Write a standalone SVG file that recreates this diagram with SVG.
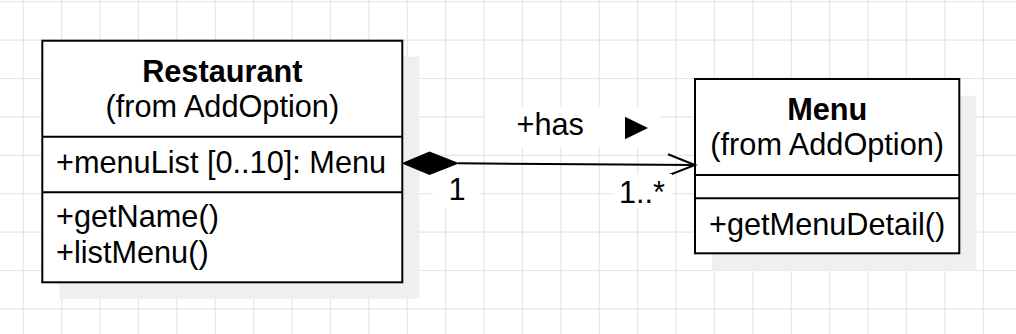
<svg xmlns="http://www.w3.org/2000/svg" width="1016" height="334" viewBox="0 0 1016 334">
<style>
.grid{stroke:#e6e6e6;stroke-width:1.2;fill:none}
.shadow{fill:#efefef;stroke:none}
.box{fill:#ffffff;stroke:#000000;stroke-width:2}
.div{stroke:#000000;stroke-width:2;fill:none}
text{font-family:"Liberation Sans",Arial,sans-serif;font-size:30.7px;fill:#000000}
.b{font-weight:bold}
.c{text-anchor:middle}
.edge{stroke:#000000;stroke-width:2;fill:none}
.lbg{fill:#ffffff;stroke:none}
</style>
<rect x="0" y="0" width="1016" height="334" fill="#ffffff"/>
<path class="grid" d="M23.3 0V334M61.7 0V334M100.1 0V334M138.5 0V334M176.9 0V334M215.3 0V334M253.7 0V334M292.1 0V334M330.5 0V334M368.9 0V334M407.3 0V334M445.7 0V334M484.1 0V334M522.5 0V334M560.9 0V334M599.3 0V334M637.7 0V334M676.1 0V334M714.5 0V334M752.9 0V334M791.3 0V334M829.7 0V334M868.1 0V334M906.5 0V334M944.9 0V334M983.3 0V334M0 1.7H1016M0 40.1H1016M0 78.5H1016M0 116.9H1016M0 155.3H1016M0 193.7H1016M0 232.1H1016M0 270.5H1016M0 308.9H1016"/>
<g id="restaurant">
<rect class="shadow" x="59.3" y="56.7" width="360" height="242"/>
<rect class="box" x="42.3" y="40.7" width="360" height="241.6"/>
<line class="div" x1="42.3" y1="136.7" x2="402.3" y2="136.7"/>
<line class="div" x1="42.3" y1="192.3" x2="402.3" y2="192.3"/>
<text class="b c" x="222.3" y="82">Restaurant</text>
<text class="c" x="222.3" y="117">(from AddOption)</text>
<text x="56" y="173">+menuList [0..10]: Menu</text>
<text x="56" y="227">+getName()</text>
<text x="56" y="263">+listMenu()</text>
</g>
<g id="menu">
<rect class="shadow" x="712" y="95.7" width="264.3" height="175"/>
<rect class="box" x="695" y="79" width="264.3" height="174.3"/>
<line class="div" x1="695" y1="175" x2="959.3" y2="175"/>
<line class="div" x1="695" y1="198.3" x2="959.3" y2="198.3"/>
<text class="b c" x="827.2" y="120">Menu</text>
<text class="c" x="827.2" y="155">(from AddOption)</text>
<text x="709" y="235">+getMenuDetail()</text>
</g>
<g id="connectors">
<line class="edge" x1="458" y1="163.3" x2="694" y2="165"/>
<polygon points="402.7,163.3 429.5,152 458,163.3 429.5,174.5" fill="#000000" stroke="#000000" stroke-width="1"/>
<polyline class="edge" points="668,154.3 695,165 668,175.5"/>
<rect class="lbg" x="485" y="107" width="175" height="40"/>
<text x="516.5" y="135">+has</text>
<polygon points="625,116.7 648,128 625,139.3" fill="#000000"/>
<rect class="lbg" x="433" y="174" width="47" height="34"/>
<text x="448.5" y="200">1</text>
<rect class="lbg" x="613" y="174" width="59" height="34"/>
<text x="619" y="203">1..*</text>
</g>
</svg>
